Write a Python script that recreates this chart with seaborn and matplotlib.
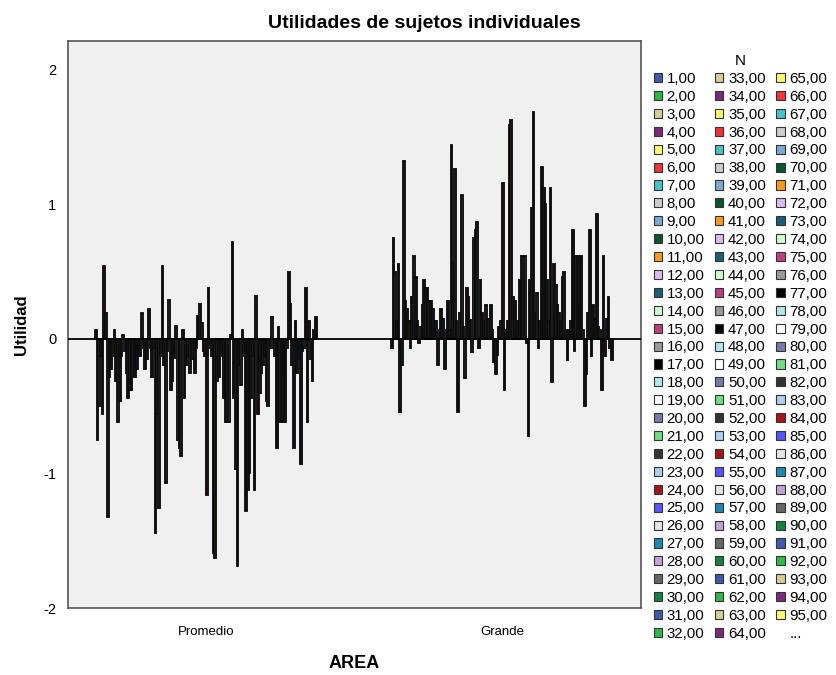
import matplotlib
matplotlib.use("Agg")
import matplotlib.pyplot as plt
import matplotlib.patches as mpatches
import seaborn as sns
import pandas as pd

# ---------------- data ----------------
areas = ["Promedio", "Grande"]

grande = [-0.07, 0.75, 0.50, 0.13, 0.56, -0.54, -0.19, 1.32, 0.28, 0.22, 0.13, -0.07, 0.31, 0.62,
          0.46, 0.13, -0.03, 0.09, 0.25, 0.44, 0.38, 0.38, 0.28, 0.28, 0.22, 0.13, 0.13, -0.19,
          0.07, 0.22, 0.15, -0.22, 0.07, 0.28, 0.07, 1.44, 0.56, 1.26, 0.13, -0.54, 0.19, 1.07,
          0.09, -0.29, 0.38, 0.31, 0.14, -0.10, 0.75, 0.81, 0.87, -0.07, 0.44, 0.19, 0.13, 0.25,
          0.15, 0.15, 0.25, 0.07, -0.17, -0.26, -0.12, 0.09, 0.13, 1.16, -0.38, 0.07, 0.13, 1.59,
          1.63, 0.31, 0.28, 0.07, 0.13, 0.44, 0.62, 0.62, 0.62, -0.03, -0.72, 0.44, 0.97, 1.69,
          0.19, 0.34, -0.07,
          0.13, 1.28, 1.12, 1.00, 0.44, 0.13, 1.12, -0.32, 0.56, 0.40, 0.25, 0.19, 0.13, 0.46,
          0.50, 0.07, -0.16, 0.07, 0.13, 0.81, -0.09, 0.62, 0.62, 0.25, 0.62, 0.07, -0.50, -0.26,
          0.19, 0.81, -0.13, 0.25, 0.15, 0.93, 0.09, 0.07, -0.38, 0.62, -0.13, 0.15, 0.31, -0.07,
          -0.16]

promedio = [0.07, -0.75, -0.50, -0.13, -0.56, 0.54, 0.19, -1.32, -0.28, -0.22, -0.13, 0.07, -0.31, -0.62,
            -0.46, -0.13, 0.03, -0.09, -0.25, -0.44, -0.38, -0.38, -0.28, -0.28, -0.22, -0.13, -0.13, 0.19,
            -0.07, -0.22, -0.15, 0.22, -0.07, -0.28, -0.07, -1.44, -0.56, -1.26, -0.13, 0.54, -0.19, -1.07,
            -0.09, 0.29, -0.38, -0.31, -0.14, 0.10, -0.75, -0.81, -0.87, 0.07, -0.44, -0.19, -0.13, -0.25,
            -0.15, -0.15, -0.25, -0.07, 0.17, 0.26, 0.12, -0.09, -0.13, -1.16, 0.38, -0.07, -0.13, -1.59,
            -1.63, -0.31, -0.28, -0.07, -0.13, -0.44, -0.62, -0.62, -0.62, 0.03, 0.72, -0.44, -0.97, -1.69,
            -0.19, -0.34, 0.07,
            -0.13, -1.28, -1.12, -1.00, -0.44, -0.13, -1.12, 0.32, -0.56, -0.40, -0.25, -0.19, -0.13, -0.46,
            -0.50, -0.07, 0.16, -0.07, -0.13, -0.81, 0.09, -0.62, -0.62, -0.25, -0.62, -0.07, 0.50, 0.26,
            -0.19, -0.81, 0.13, -0.25, -0.15, -0.93, -0.09, -0.07, 0.38, -0.62, 0.13, -0.15, -0.31, 0.07,
            0.16]

n_subjects = len(grande)
subject_labels = [f"{i},00" for i in range(1, n_subjects + 1)]

base_colors = ["#3E58AC", "#2EB848", "#D3CE97", "#7C287D", "#FBF873", "#EF3338", "#48C2C5",
               "#CCCCCC", "#7AAAD5", "#0A562C", "#F8981D", "#DDBAF1", "#1A5F76", "#CCFFCC",
               "#BB3F7F", "#999999", "#000000", "#B3E6E6", "#FFFFFF", "#797AA7", "#70DC84",
               "#333333", "#ACD0EE", "#A21619", "#5757F9", "#E6E6E6", "#2187B1", "#C3A3D6",
               "#666666", "#13843F"]
palette = [base_colors[i % len(base_colors)] for i in range(n_subjects)]

df = pd.DataFrame({
    "AREA": [areas[0]] * n_subjects + [areas[1]] * n_subjects,
    "N": subject_labels + subject_labels,
    "Utilidad": promedio + grande,
})

# ---------------- plot ----------------
sns.set_style("white")
plt.rcParams["font.family"] = ["Liberation Sans", "DejaVu Sans"]
plt.rcParams["text.color"] = "black"
plt.rcParams["axes.labelcolor"] = "black"
plt.rcParams["xtick.color"] = "black"
plt.rcParams["ytick.color"] = "black"

fig = plt.figure(figsize=(8.37, 6.75), dpi=100)
ax = fig.add_axes([68 / 837, 1 - 608 / 675, (641 - 68) / 837, (608 - 41) / 675])
ax.set_facecolor("#F0F0F0")

sns.barplot(data=df, x="AREA", y="Utilidad", hue="N", order=areas, hue_order=subject_labels,
            palette=palette, errorbar=None, width=0.75, edgecolor="#0d0d0d", linewidth=1.35,
            saturation=1, legend=False, ax=ax)

ax.axhline(0, color="black", lw=1.3, zorder=5)
ax.set_xlim(-0.466, 1.47)
ax.set_ylim(-2.0, 2.215)
ax.set_yticks([-2, -1, 0, 1, 2])
ax.set_yticklabels(["-2", "-1", "0", "1", "2"], fontsize=10.5)
ax.set_xticks([0, 1])
ax.set_xticklabels(areas, fontsize=9.5)
ax.tick_params(axis="both", direction="out", length=5, width=1, color="#444444")
ax.tick_params(axis="x", pad=8)
for s in ax.spines.values():
    s.set_color("#555555")
    s.set_linewidth(1.2)

ax.set_xlabel("AREA", fontsize=13, fontweight="bold", labelpad=12)
ax.set_ylabel("Utilidad", fontsize=12, fontweight="bold", labelpad=10)

fig.text(0.507, 0.965, "Utilidades de sujetos individuales", ha="center", va="center",
         fontsize=14, fontweight="bold")

# legend (first 95 entries + ellipsis)
handles = [mpatches.Patch(facecolor=palette[i], edgecolor="#333333", linewidth=0.8,
                          label=subject_labels[i]) for i in range(95)]
handles.append(mpatches.Patch(facecolor="none", edgecolor="none", label="..."))
leg = fig.legend(handles=handles, ncol=3, loc="upper left",
                 bbox_to_anchor=(648 / 837, 1 - 48 / 675), frameon=False,
                 fontsize=10.8, title="N", title_fontsize=11,
                 handlelength=0.55, handleheight=0.55, handletextpad=0.3,
                 columnspacing=0.7, labelspacing=0.26, borderaxespad=0)

fig.savefig("out.png", dpi=100)
